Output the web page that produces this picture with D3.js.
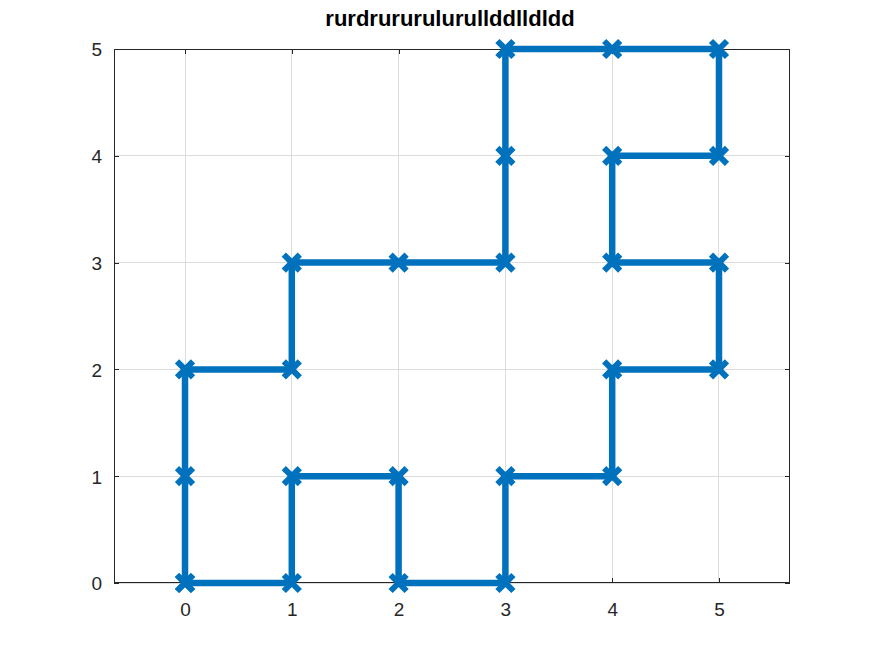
<!DOCTYPE html>
<html><head><meta charset="utf-8">
<script src="https://cdn.jsdelivr.net/npm/d3@7"></script>
<style>body{margin:0;background:#fff;} svg{display:block;}</style>
</head><body>
<svg id="c" width="873" height="655"></svg>
<script>
const title = "rurdrururulurullddlldldd";
const xs = [0,1,1,2,2,3,3,4,4,5,5,4,4,5,5,4,3,3,3,2,1,1,0,0,0];
const ys = [0,0,1,1,0,0,1,1,2,2,3,3,4,4,5,5,5,4,3,3,3,2,2,1,0];
const xTicks = [0,1,2,3,4,5];
const yTicks = [0,1,2,3,4,5];
const xDomain = [-0.665, 5.665];
const yDomain = [0, 5];

const svg = d3.select("#c");
const L = 114, R = 790, T = 49, B = 583;
const x = d3.scaleLinear().domain(xDomain).range([L, R]);
const y = d3.scaleLinear().domain(yDomain).range([B, T]);

svg.append("rect").attr("x",0).attr("y",0).attr("width",873).attr("height",655).attr("fill","#fff");

// grid
const g = svg.append("g");
g.selectAll(".gx").data(xTicks).enter().append("line")
  .attr("x1",d=>x(d)).attr("x2",d=>x(d)).attr("y1",T).attr("y2",B)
  .attr("stroke","#dcdcdc").attr("stroke-width",1).attr("shape-rendering","crispEdges");
g.selectAll(".gy").data(yTicks).enter().append("line")
  .attr("y1",d=>y(d)).attr("y2",d=>y(d)).attr("x1",L).attr("x2",R)
  .attr("stroke","#dcdcdc").attr("stroke-width",1).attr("shape-rendering","crispEdges");

// axes
const font = "'Liberation Sans', Arial, sans-serif";
const axB = svg.append("g").attr("transform",`translate(0,${B})`).call(d3.axisBottom(x).tickValues(xTicks).tickSize(-5).tickFormat(d3.format("d")));
const axT = svg.append("g").attr("transform",`translate(0,${T})`).call(d3.axisTop(x).tickValues(xTicks).tickSize(-5).tickFormat(""));
const axL = svg.append("g").attr("transform",`translate(${L},0)`).call(d3.axisLeft(y).tickValues(yTicks).tickSize(-5).tickFormat(d3.format("d")));
const axR = svg.append("g").attr("transform",`translate(${R},0)`).call(d3.axisRight(y).tickValues(yTicks).tickSize(-5).tickFormat(""));
[axB,axT,axL,axR].forEach(a=>{
  a.attr("font-size",19).attr("font-family",font);
  a.select(".domain").remove();
  a.selectAll("line").attr("stroke","#262626").attr("shape-rendering","crispEdges");
  a.selectAll("text").attr("fill","#262626").style("font-family",font).style("font-size","19px");
});
axB.selectAll("text").attr("dy","0.71em").attr("y",20);
axL.selectAll("text").attr("x",-12).attr("dy","0.36em");

svg.append("rect").attr("x",L+0.5).attr("y",T+0.5).attr("width",R-L-1).attr("height",B-T-1)
  .attr("fill","none").attr("stroke","#262626").attr("stroke-width",1);

// line
const pts = xs.map((v,i)=>[v, ys[i]]);
const color = "#0072BD";
svg.append("path").datum(pts)
  .attr("d", d3.line().x(d=>x(d[0])).y(d=>y(d[1])))
  .attr("fill","none").attr("stroke",color).attr("stroke-width",6.5).attr("stroke-linejoin","miter");

// markers
const s = 8;
svg.append("g").selectAll("path").data(pts).enter().append("path")
  .attr("d", d=>{const cx=x(d[0]), cy=y(d[1]); return `M${cx-s},${cy-s}L${cx+s},${cy+s}M${cx-s},${cy+s}L${cx+s},${cy-s}`;})
  .attr("stroke",color).attr("stroke-width",6).attr("fill","none");

svg.append("text").attr("x",450).attr("y",26).attr("text-anchor","middle")
  .style("font-family",font).style("font-size","22px").style("font-weight","bold").attr("fill","#000")
  .text(title);
</script>
</body></html>
